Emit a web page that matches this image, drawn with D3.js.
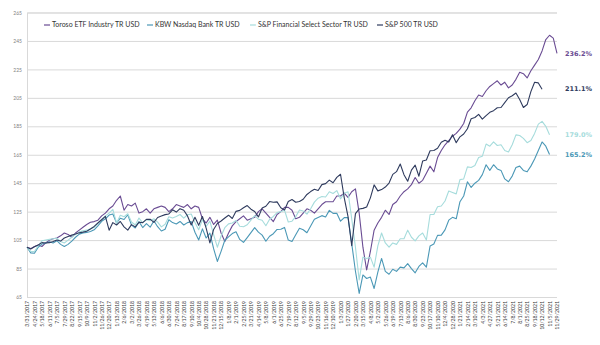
<!DOCTYPE html>
<html>
<head>
<meta charset="utf-8">
<script src="https://cdn.jsdelivr.net/npm/d3@7"></script>
<style>
  body { margin: 0; background: #fff; }
  svg { display: block; }
</style>
</head>
<body>
<svg id="chart" width="600" height="345"></svg>
<script>
// growth of 100 since 3/31/2017, one sample every 12 days

var startDate = "3/31/2017";
var stepDays = 12;

var seriesNames = ["Toroso ETF Industry TR USD", "KBW Nasdaq Bank TR USD", "S&P Financial Select Sector TR USD", "S&P 500 TR USD"];
var seriesColors = ["#6a4c93", "#4b98b6", "#a6dcdc", "#2f3b5e"];
var endLabels = ["236.2%", "165.2%", "179.0%", "211.1%"];

var toroso = [100,99,100.5,101.5,100.5,103,105,106,106.5,108,110,109,107,110,112,114,116,117.5,118,119,
  122,124,127,129,133,136,126,130,129,131,124,125,127,124,127,128,129,128,125,127,
  130,129,128,130,127,129,128,120,117,121,116,119,110,104,110,115,118,120,122,119,
  120,121,125,127,124,121,118,123,125,128,128,126,120,121,124,127,126,124,127,130,
  132,132,132,136,136,138,135,139,141,124,100,84,97,112,117,121,126,123,130,132,
  136,139,141,144,149,145,147,152,157,153,163,168,172,175,178,180,183,187,195,198,
  203,207,206,210,213,215,217,214,216,212,214,218,223,222,219,224,228,232,238,246,
  249,247,236.2];

var kbw = [100,96,95.8,100,102.2,103,103.9,103,104.6,102,100.5,102,104.3,107,109.2,110,110.4,111,112.2,115,
  118.2,120,122.6,123.3,117,120.4,119.5,122.8,115.5,113.5,118,113.8,116.6,114.1,118.6,114.4,111.4,112.6,119.3,117.3,
  116.3,118.1,115.6,117.3,118,110.5,105.1,112.9,106.5,109.9,99,90,97.1,104.9,107.3,109.6,110.9,105.5,103.4,106.8,
  110.3,113.8,110.6,108.5,104.2,107.7,109.5,112.5,112.6,113.9,105,104,108.7,113.3,112.3,110.2,114.9,119.6,120.9,122.2,
  121.2,125.9,123.8,123.9,118.3,120.8,120.9,102.6,83.1,67.5,80.5,78,79,71,82.5,92.1,83,81,84.5,83,
  86,85.5,88.5,85,82,86.5,89,86,100.9,102.2,108.3,108.5,112.2,119,121,120,132,136,146,142,
  145,147,151,158,154,158,155,154,148,146,150,156,157,154,153,157,162,168,174,171,
  165.2];

var xlf = [100,97,97,101,104.5,105,105.5,106,106.3,104,103,105,107,109,110.8,111.5,112,113,114,117,
  119.6,122,124,126.6,117,122.5,121.4,123.5,117.7,115.6,120.5,117.2,119.4,118.6,120,117.6,114.3,116.1,121.4,120.6,
  121.6,123,120.5,122.8,123.3,117.4,112.3,119.4,114.7,118.3,108.9,100,107.9,113.7,116.4,117,118.9,114.7,114.4,115.8,
  119,122.2,119.7,119,115.1,119.7,121.6,124.4,125,126,117.7,118.3,121.5,126.1,125.4,123.3,127,131.7,134.5,135.6,
  135.3,139,137.8,139.8,134,138,139,120,100,77,93,92,93,86,101,110,103,100,103,102,
  106,106,112,107,104.5,108,110,105,123,123,128.5,129,132.5,139.5,138.5,137.5,147.5,148,156.5,156,
  157.5,163,164,172.5,171,174,171.5,172,168,167,172,179,178.5,176.5,173.5,175,180,186.5,188.5,185,
  179.0];

var spx = [100,98.8,100.3,101.5,103.2,103,103.2,104,105.1,104.3,106.5,107.5,108.5,109.3,110.1,110.6,111.2,112.8,114.6,117,
  119.3,121.7,112,117.3,115.6,118.1,114.3,112,115.9,114.3,117.5,117.3,119.6,119.7,117.4,120.9,121.9,122.9,123.4,126.3,
  124.7,127.1,126,122,115.6,121,115.4,121.6,113.4,103,112.5,116.7,118.4,120.5,122.5,120.2,125.2,125.9,127.7,129.3,
  126.7,125.1,121.3,127.5,128.8,132.1,131.6,131.9,127.7,126.2,132.1,133.5,131.6,132.1,133.7,137.1,139.1,140.7,139.9,144,
  144.7,147.2,145.3,149.1,151.3,134.7,121.7,101,123.6,126.9,127.3,128.3,134.7,143.8,139.6,140.5,142.3,145.1,151.2,153.1,
  158.5,151,146.4,154.2,157.7,149.9,160.6,161.3,167.8,168,169.6,173.8,175.2,174,179,173.5,177.6,179.6,183.3,190.3,
  191.2,193.4,190,192.5,194.8,196,198,198.2,201.6,205.1,206.5,208.4,203.9,198.2,200.3,209.4,216,215.5,211.1];

// x axis labels, every 24 days
var tickLabels = ["3/31/2017","4/24/2017","5/18/2017","6/11/2017","7/5/2017","7/29/2017","8/22/2017","9/15/2017",
  "10/9/2017","11/2/2017","11/26/2017","12/20/2017","1/13/2018","2/6/2018","3/2/2018","3/26/2018","4/19/2018",
  "5/13/2018","6/6/2018","6/30/2018","7/24/2018","8/17/2018","9/10/2018","10/4/2018","10/28/2018","11/21/2018",
  "12/15/2018","1/8/2019","2/1/2019","2/25/2019","3/21/2019","4/14/2019","5/8/2019","6/1/2019","6/25/2019",
  "7/19/2019","8/12/2019","9/5/2019","9/29/2019","10/23/2019","11/16/2019","12/10/2019","1/3/2020","1/27/2020",
  "2/20/2020","3/15/2020","4/8/2020","5/2/2020","5/26/2020","6/19/2020","7/13/2020","8/6/2020","8/30/2020",
  "9/23/2020","10/17/2020","11/10/2020","12/4/2020","12/28/2020","1/21/2021","2/14/2021","3/10/2021","4/3/2021",
  "4/27/2021","5/21/2021","6/14/2021","7/8/2021","8/1/2021","8/25/2021","9/18/2021","10/12/2021","11/5/2021",
  "11/29/2021"];

var yTicks = [65,85,105,125,145,165,185,205,225,245,265];

var parseDate = d3.timeParse("%m/%d/%Y");
var fmtDate = d3.timeFormat("%-m/%-d/%Y");

var svg = d3.select("#chart");
var plotL = 27, plotR = 557, plotT = 12.5, plotB = 297;

var t0 = parseDate(startDate);
var allSeries = [toroso, kbw, xlf, spx];

var x = d3.scaleTime()
    .domain([t0, parseDate(tickLabels[tickLabels.length - 1])])
    .range([plotL, plotR]);
var y = d3.scaleLinear()
    .domain([65, 265])
    .range([plotB, plotT]);

// gridlines + y labels
var yAxis = d3.axisLeft(y)
    .tickValues(yTicks)
    .tickSize(-(plotR - plotL))
    .tickPadding(5)
    .tickFormat(d3.format("d"));
var gy = svg.append("g")
    .attr("transform", `translate(${plotL},0)`)
    .call(yAxis);
gy.select(".domain").attr("stroke", "#d9d9d9");
gy.selectAll(".tick line").attr("stroke", "#d9d9d9");
gy.selectAll(".tick text")
    .attr("font-family", "Lato, sans-serif")
    .attr("font-size", 5)
    .attr("fill", "#7f7f7f");

// x labels (rotated)
var xAxis = d3.axisBottom(x)
    .tickValues(tickLabels.map(parseDate))
    .tickSize(0)
    .tickPadding(0)
    .tickFormat(fmtDate);
var gx = svg.append("g")
    .attr("transform", `translate(0,${plotB})`)
    .call(xAxis);
gx.select(".domain").remove();
gx.selectAll(".tick text")
    .attr("font-family", "Lato, sans-serif")
    .attr("font-size", 5.2)
    .attr("fill", "#404040")
    .attr("text-anchor", "end")
    .attr("transform", "translate(0,4) rotate(-90)")
    .attr("x", 0)
    .attr("y", 0)
    .attr("dy", "0.35em");

// lines
var line = d3.line()
    .x((d, i) => x(d3.timeDay.offset(t0, i * stepDays)))
    .y(d => y(d));

svg.append("g").selectAll("path")
    .data(allSeries)
    .join("path")
    .attr("d", d => line(d))
    .attr("fill", "none")
    .attr("stroke", (d, i) => seriesColors[i])
    .attr("stroke-width", 1.1)
    .attr("stroke-linejoin", "round");

// end value labels
svg.append("g").selectAll("text")
    .data(allSeries)
    .join("text")
    .attr("x", plotR + 8)
    .attr("y", d => y(d[d.length - 1]))
    .attr("dy", "0.35em")
    .attr("font-family", "DejaVu Sans, sans-serif")
    .attr("font-weight", "bold")
    .attr("font-size", 6.5)
    .attr("fill", (d, i) => seriesColors[i])
    .text((d, i) => endLabels[i]);

// legend
var legendX = [44, 147, 250, 377];
var lg = svg.append("g").selectAll("g")
    .data(seriesNames)
    .join("g")
    .attr("transform", (d, i) => `translate(${legendX[i]},25)`);
lg.append("line")
    .attr("x1", 0).attr("x2", 6)
    .attr("stroke", (d, i) => seriesColors[i])
    .attr("stroke-width", 1.2);
lg.append("text")
    .attr("x", 8)
    .attr("dy", "0.35em")
    .attr("font-family", "Lato, sans-serif")
    .attr("font-size", 7)
    .attr("fill", "#333333")
    .text(d => d);
</script>
</body>
</html>
